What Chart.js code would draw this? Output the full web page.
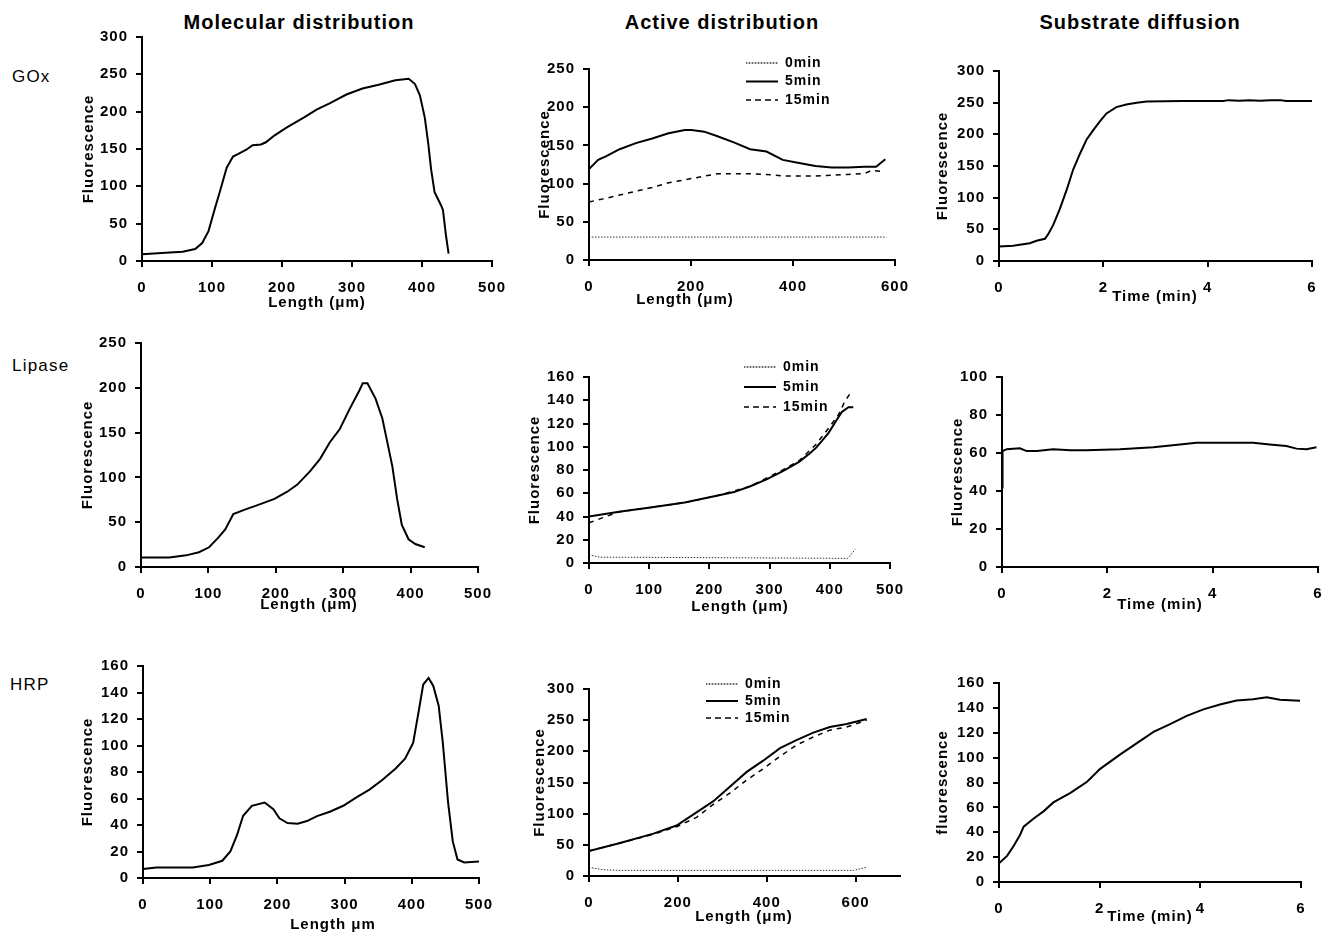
<!DOCTYPE html>
<html><head><meta charset="utf-8">
<script src="https://cdn.jsdelivr.net/npm/chart.js@4.4.1/dist/chart.umd.min.js"></script>
<style>
html,body{margin:0;padding:0;background:#fff;}
body{width:1336px;height:936px;position:relative;overflow:hidden;font-family:"Liberation Sans",Arial,sans-serif;color:#000;}
canvas{position:absolute;}
.col{position:absolute;font-weight:bold;font-size:20px;line-height:1;letter-spacing:1px;transform:translate(-50%,-50%);white-space:nowrap;}
.row{position:absolute;font-size:17px;line-height:1;letter-spacing:1.2px;transform:translateY(-50%);white-space:nowrap;}
</style></head><body>
<div class="col" style="left:299px;top:22px">Molecular distribution</div>
<div class="col" style="left:722px;top:22px">Active distribution</div>
<div class="col" style="left:1140px;top:22px">Substrate diffusion</div>
<div class="row" style="left:12px;top:76px">GOx</div>
<div class="row" style="left:12px;top:365px">Lipase</div>
<div class="row" style="left:10px;top:684px">HRP</div>
<script>
// ---------- DATA ----------
const seriesLabels = ['0min', '5min', '15min'];

// GOx – molecular distribution
const goxMolX = [0,34,58,76,86,95,104,111,121,130,137,149,158,170,177,189,207,231,250,268,292,315,338,362,381,390,397,404,409,413,418,427,430,434,438];
const goxMolY = [9,11,12.5,16,24,40,70,92,125,140,143,149,155,156,159,168,179,192,203,211,223,231,236,242,244,237,222,192,157,123,92,75,68,36,10];

// GOx – active distribution
const goxAct0X = [0,583];
const goxAct0Y = [30,30];
const goxAct5X = [0,18,34,60,92,124,156,188,201,226,252,284,316,348,380,412,444,476,508,540,563,572,581];
const goxAct5Y = [119,131,136,145,153,159,166,170,170,168,162,154,145,142,131,127,123,121,121,122,122,127,132];
const goxAct15X = [0,28,60,92,124,156,188,220,252,316,348,380,444,476,508,540,553,578];
const goxAct15Y = [76,80,85,90,95,101,105,109,113,113,112,110,110,111,112,113,117,116];

// GOx – substrate diffusion
const goxSubT = [0,0.27,0.59,0.72,0.88,0.94,1.04,1.17,1.30,1.42,1.55,1.68,1.81,1.93,2.06,2.25,2.44,2.64,2.83,3.5,4.3,4.4,4.6,4.8,5.0,5.2,5.4,5.5,6];
const goxSubY = [23,24,28,32,35,42,57,83,113,144,169,192,207,220,233,243,247,250,252,252.5,252.5,254,253,254,253,254,254,252.5,252.5];

// Lipase – molecular distribution
const lipMolX = [0,42,67,86,101,115,125,137,154,173,198,217,232,251,266,280,295,310,324,329,336,348,358,365,373,380,387,397,407,421];
const lipMolY = [10.5,10.5,13,16.5,22,33,42,59,64,69,76,84,92,107,121,139,154,177,197,205,205,188,166,141,112,76,47,31,25.6,22];

// Lipase – active distribution
const lipAct0X = [0,18,40,430,442];
const lipAct0Y = [7,5,5,4,11.6];
const lipAct5X = [0,50,105,159,214,241,268,295,322,349,366,377,387,398,409,420,431,439];
const lipAct5Y = [40,44,48,52,58,61,66,72,79,87,94,99,105,112,121,130,134,134];
const lipAct15X = [0,23,50,105,159,214,268,322,349,377,398,415,425,434];
const lipAct15Y = [34.5,39,44,48,52,58,66,80,88,102,116,128,139,146];

// Lipase – substrate diffusion
const lipSubT = [0,0.01,0.09,0.34,0.47,0.66,0.97,1.3,1.6,2.24,2.87,3.38,3.69,4.77,5.08,5.4,5.59,5.78,5.97];
const lipSubY = [42,61,62,62.5,61,61,62,61.5,61.5,62,63,64.5,65.4,65.4,64.5,63.7,62.3,62,63];

// HRP – molecular distribution
const hrpMolX = [0,20,74,98,118,130,140,149,162,181,194,203,215,230,244,259,278,298,317,337,356,376,390,402,410,417,425,432,440,446,454,461,468,478,500];
const hrpMolY = [6.8,8,8,9.8,13,20,32.5,47,54.5,57,52,45,41.5,41,43,46.7,50,54.5,60.6,66.7,74,82.6,90,102,125,146,151,145,130,103,57,27.6,14,11.7,12.5];

// HRP – active distribution
const hrpAct0X = [0,32,70,595,625];
const hrpAct0Y = [14,10,9,9,14];
const hrpAct5X = [0,70,145,197,242,280,317,355,392,430,467,505,542,580,625];
const hrpAct5Y = [40,53,68,81,102,120,143,167,185,205,218,230,239,244,252];
const hrpAct15X = [0,70,145,197,242,280,317,355,392,430,467,505,542,580,625];
const hrpAct15Y = [40,53,67,79,94,115,133,154,172,192,210,223,234,239,250];

// HRP – substrate diffusion
const hrpSubT = [0,0.16,0.29,0.42,0.49,0.69,0.89,1.08,1.42,1.75,2.01,2.41,2.74,3.07,3.40,3.73,4.06,4.39,4.72,5.05,5.32,5.58,5.98];
const hrpSubY = [15,21,29,38,44.5,51,57,64,71.6,80.6,91,102.6,111.7,120.7,127,133.6,138.8,142.7,146,147,148.6,146.5,145.8];

// ---------- STYLES ----------
const FONT = '"Liberation Sans", Arial, sans-serif';
Chart.defaults.font.family = FONT;
Chart.defaults.color = '#000';

const STYLE = {
  main:  {borderColor:'#000', borderWidth:2, borderDash:[]},
  '0min':{borderColor:'#333', borderWidth:1, borderDash:[1.5,1.5]},
  '5min':{borderColor:'#000', borderWidth:2, borderDash:[]},
  '15min':{borderColor:'#000', borderWidth:1.5, borderDash:[5,5]}
};

const YW = 66, PT = 10, PR = 20;

const panels = [
  {L:142,R:498,T:30,B:261,Yt:89,Xt:303,Xc:320,xMax:500,xStep:100,yMax:300,yStep:50,xTitle:'Length (μm)',yTitle:'Fluorescence',
   series:[{x:goxMolX,y:goxMolY,s:'main',label:'GOx'}]},
  {L:589,R:901,T:62,B:260,Yt:545,Xt:300,Xc:688,xMax:600,xStep:200,yMax:250,yStep:50,xTitle:'Length (μm)',yTitle:'Fluorescence',
   series:[{x:goxAct0X,y:goxAct0Y,s:'0min',label:seriesLabels[0]},{x:goxAct5X,y:goxAct5Y,s:'5min',label:seriesLabels[1]},{x:goxAct15X,y:goxAct15Y,s:'15min',label:seriesLabels[2]}],
   legend:{x:746,cy:63,pad:4.5}},
  {L:999,R:1312,T:64,B:261,Yt:943,Xt:297,Xc:1155,xMax:6,xStep:2,yMax:300,yStep:50,xTitle:'Time (min)',yTitle:'Fluorescence',
   series:[{x:goxSubT,y:goxSubY,s:'main',label:'GOx'}]},
  {L:141,R:484,T:336,B:567,Yt:88,Xt:605,Xc:312,xMax:500,xStep:100,yMax:250,yStep:50,xTitle:'Length (μm)',yTitle:'Fluorescence',
   series:[{x:lipMolX,y:lipMolY,s:'main',label:'Lipase'}]},
  {L:589,R:896,T:370,B:563,Yt:535,Xt:607,Xc:743,xMax:500,xStep:100,yMax:160,yStep:20,xTitle:'Length (μm)',yTitle:'Fluorescence',
   series:[{x:lipAct0X,y:lipAct0Y,s:'0min',label:seriesLabels[0]},{x:lipAct5X,y:lipAct5Y,s:'5min',label:seriesLabels[1]},{x:lipAct15X,y:lipAct15Y,s:'15min',label:seriesLabels[2]}],
   legend:{x:744,cy:367,pad:6}},
  {L:1002,R:1318,T:370,B:567,Yt:958,Xt:605,Xc:1160,xMax:6,xStep:2,yMax:100,yStep:20,xTitle:'Time (min)',yTitle:'Fluorescence',
   series:[{x:lipSubT,y:lipSubY,s:'main',label:'Lipase'}]},
  {L:143,R:485,T:659,B:878,Yt:88,Xt:925,Xc:336,xMax:500,xStep:100,yMax:160,yStep:20,xTitle:'Length μm',yTitle:'Fluorescence',
   series:[{x:hrpMolX,y:hrpMolY,s:'main',label:'HRP'}]},
  {L:589,R:900,T:682,B:876,Yt:540,Xt:917,Xc:744,xMax:700,xStep:200,yMax:300,yStep:50,xTitle:'Length (μm)',yTitle:'Fluorescence',
   series:[{x:hrpAct0X,y:hrpAct0Y,s:'0min',label:seriesLabels[0]},{x:hrpAct5X,y:hrpAct5Y,s:'5min',label:seriesLabels[1]},{x:hrpAct15X,y:hrpAct15Y,s:'15min',label:seriesLabels[2]}],
   legend:{x:706,cy:684,pad:3}},
  {L:999,R:1301,T:676,B:882,Yt:943,Xt:917,Xc:1150,xMax:6,xStep:2,yMax:160,yStep:20,xTitle:'Time (min)',yTitle:'fluorescence',
   series:[{x:hrpSubT,y:hrpSubY,s:'main',label:'HRP'}]}
];

const placePlugin = {
  id: 'place',
  beforeLayout(chart){ chart.ctx.letterSpacing = '1px'; },
  beforeDraw(chart){ chart.ctx.letterSpacing = '1px'; },
  afterLayout(chart, args, o){
    const s = chart.scales.x;
    if (o.dx && !s._shifted){
      const orig = s.drawTitle;
      const dx = o.dx;
      s.drawTitle = function(){ const c = this.ctx; c.save(); c.translate(dx,0); orig.apply(this, arguments); c.restore(); };
      s._shifted = true;
    }
    const lg = chart.legend;
    if (lg && o.lx !== undefined && o.lx !== null){
      const pad = lg.options.labels.padding;
      lg.left = o.lx - pad; lg.top = o.ly - pad;
      lg.width = 220; lg.height = 300;
      lg.right = lg.left + 220; lg.bottom = lg.top + 300;
    }
  }
};

function axis(min, max, step, title, isX, titlePad, fitSize){
  return {
    type:'linear', min:min, max:max,
    afterBuildTicks: (sc) => { sc.ticks = sc.ticks.filter(t => Math.abs(t.value/step - Math.round(t.value/step)) < 1e-6); },
    afterFit: (sc) => { if (isX) sc.height = fitSize; else sc.width = fitSize; },
    ticks:{stepSize:step, color:'#000', font:{size:15, weight:'bold'}, padding: isX ? 12 : 8, maxRotation:0, autoSkip:false},
    grid:{display:true, drawOnChartArea:false, drawTicks:true, tickLength:6, color:'#000', lineWidth:2},
    border:{display:true, color:'#000', width:2},
    title:{display:true, text:title, color:'#000', font:{size:15, weight:'bold'}, padding:titlePad}
  };
}

panels.forEach((p, i) => {
  const cLeft = p.L - YW, cTop = p.T - PT;
  const width = YW + (p.R - p.L) + PR;
  const height = Math.round(p.Xt + 11 - cTop);
  const xh = height - (p.B - cTop);
  const lh = 15 * 1.2;
  const yTitlePad = {top: Math.max(0, p.Yt - cLeft - lh/2), bottom: 0};
  const xTitlePad = {top: 0, bottom: Math.max(0, 11 - lh/2)};
  const cv = document.createElement('canvas');
  cv.width = width; cv.height = height;
  cv.style.left = cLeft + 'px'; cv.style.top = cTop + 'px';
  cv.style.width = width + 'px'; cv.style.height = height + 'px';
  document.body.appendChild(cv);

  const datasets = p.series.map(sr => Object.assign({
    label: sr.label,
    data: sr.x.map((x, k) => ({x: x, y: sr.y[k]})),
    pointRadius: 0, pointHoverRadius: 0, tension: 0, fill: false,
    backgroundColor: 'rgba(0,0,0,0)'
  }, STYLE[sr.s]));

  const hasLegend = !!p.legend;
  new Chart(cv, {
    type: 'line',
    data: { datasets },
    options: {
      responsive: false, animation: false, devicePixelRatio: 1,
      layout: { padding: {top: PT, right: PR, left: 0, bottom: 0} },
      scales: {
        x: axis(0, p.xMax, p.xStep, p.xTitle, true, xTitlePad, xh),
        y: axis(0, p.yMax, p.yStep, p.yTitle, false, yTitlePad, YW)
      },
      plugins: {
        tooltip: {enabled: false},
        legend: hasLegend ? {
          display: true, position: 'chartArea', align: 'start',
          labels: {boxWidth: 32, boxHeight: 0, padding: p.legend.pad, color:'#000', font: {size: 14, weight: 'bold'}}
        } : {display: false},
        place: {
          dx: p.Xc - (p.L + p.R) / 2,
          lx: hasLegend ? p.legend.x - cLeft : null,
          ly: hasLegend ? p.legend.cy - 7 - cTop : null
        }
      }
    },
    plugins: [placePlugin]
  });
});
</script>
</body></html>
